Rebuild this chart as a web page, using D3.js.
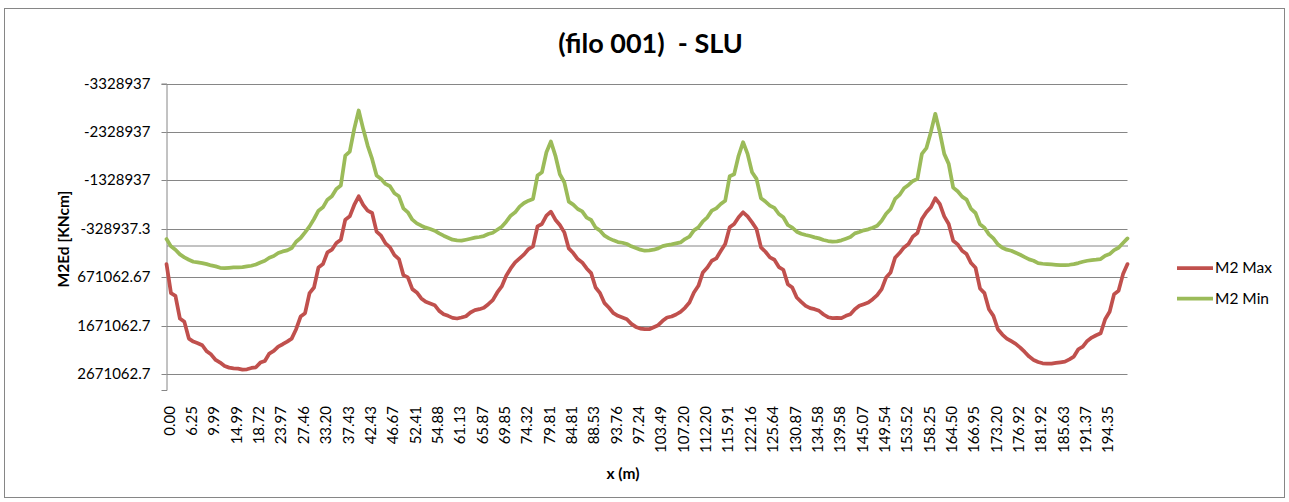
<!DOCTYPE html>
<html>
<head>
<meta charset="utf-8">
<script src="https://cdn.jsdelivr.net/npm/d3@7"></script>
<style>
  body { margin: 0; background: #fff; }
  svg { display: block; }
  text { font-family: Lato, "Open Sans", sans-serif; fill: #000; }
</style>
</head>
<body>
<svg id="chart" width="1289" height="502"></svg>
<script>
// Station labels shown on the category axis (every fifth section)
const xLabels = ["0.00","6.25","9.99","14.99","18.72","23.97","27.46","33.20","37.43","42.43",
  "46.67","52.41","54.88","61.13","65.87","69.85","74.32","79.81","84.81","88.53",
  "93.76","97.24","103.49","107.20","112.20","115.91","122.16","125.64","130.87","134.58",
  "139.58","145.07","149.54","153.52","158.25","164.50","166.95","173.20","176.92","181.92",
  "185.63","191.37","194.35"];
const labelStep = 5;

const seriesNames = ["M2 Max", "M2 Min"];
const seriesColors = ["#C0504D", "#9BBB59"];

// Design bending moment envelope, KNcm, one value per section
const m2Max = [
  400000, 1000000, 1055000, 1524000, 1593000, 1938000, 2000000, 2034000, 2076000, 2200000,
  2269000, 2379000, 2434000, 2503000, 2538000, 2552000, 2559000, 2579000, 2572000, 2545000,
  2531000, 2434000, 2400000, 2248000, 2193000, 2103000, 2055000, 2000000, 1938000, 1745000,
  1483000, 1414000, 1000000, 883000, 469000, 400000, 159000, 103000, -34000, -103000,
  -517000, -586000, -821000, -1000000, -821000, -703000, -655000, -269000, -186000, -28000,
  55000, 214000, 297000, 628000, 676000, 917000, 986000, 1110000, 1179000, 1214000,
  1248000, 1366000, 1434000, 1469000, 1510000, 1524000, 1503000, 1476000, 1400000, 1352000,
  1331000, 1303000, 1228000, 1145000, 986000, 862000, 641000, 490000, 366000, 283000,
  200000, 90000, 34000, -379000, -428000, -600000, -683000, -517000, -407000, -255000,
  76000, 172000, 297000, 366000, 490000, 586000, 883000, 1000000, 1207000, 1303000,
  1414000, 1469000, 1503000, 1538000, 1634000, 1697000, 1731000, 1745000, 1745000, 1703000,
  1662000, 1572000, 1503000, 1483000, 1441000, 1386000, 1303000, 1193000, 986000, 848000,
  572000, 469000, 331000, 283000, 131000, -14000, -359000, -428000, -566000, -669000,
  -586000, -462000, -324000, 55000, 145000, 262000, 310000, 462000, 517000, 814000,
  883000, 1090000, 1179000, 1262000, 1310000, 1331000, 1366000, 1441000, 1497000, 1517000,
  1510000, 1517000, 1469000, 1434000, 1331000, 1262000, 1228000, 1193000, 1124000, 1041000,
  917000, 676000, 572000, 269000, 172000, 55000, -14000, -172000, -241000, -531000,
  -669000, -772000, -959000, -841000, -586000, -428000, -83000, -7000, 124000, 193000,
  379000, 476000, 903000, 1000000, 1331000, 1469000, 1745000, 1855000, 1938000, 1993000,
  2048000, 2124000, 2214000, 2310000, 2379000, 2421000, 2448000, 2455000, 2455000, 2441000,
  2428000, 2414000, 2366000, 2310000, 2159000, 2103000, 1986000, 1917000, 1869000, 1828000,
  1538000, 1386000, 1021000, 952000, 607000, 400000
];

const m2Min = [
  -117000, 34000, 103000, 200000, 262000, 310000, 352000, 366000, 379000, 400000,
  428000, 448000, 476000, 483000, 476000, 469000, 469000, 462000, 448000, 434000,
  407000, 366000, 331000, 269000, 234000, 172000, 138000, 117000, 69000, -62000,
  -138000, -255000, -379000, -531000, -703000, -772000, -931000, -1000000, -1152000, -1221000,
  -1841000, -1924000, -2393000, -2772000, -2393000, -2048000, -1772000, -1428000, -1359000, -1255000,
  -1207000, -1062000, -1000000, -752000, -669000, -517000, -441000, -393000, -352000, -324000,
  -290000, -234000, -186000, -145000, -103000, -90000, -83000, -103000, -124000, -145000,
  -159000, -179000, -221000, -248000, -310000, -372000, -476000, -600000, -669000, -786000,
  -862000, -910000, -945000, -1428000, -1497000, -1910000, -2131000, -1841000, -1455000, -1290000,
  -890000, -828000, -738000, -690000, -559000, -510000, -352000, -290000, -186000, -131000,
  -90000, -55000, -41000, -14000, 34000, 69000, 103000, 124000, 117000, 103000,
  76000, 28000, 7000, -7000, -28000, -48000, -117000, -166000, -297000, -359000,
  -483000, -566000, -703000, -752000, -841000, -910000, -1414000, -1455000, -1841000, -2117000,
  -1876000, -1497000, -1359000, -959000, -890000, -807000, -759000, -634000, -566000, -407000,
  -352000, -269000, -228000, -200000, -179000, -152000, -131000, -97000, -76000, -62000,
  -69000, -90000, -124000, -159000, -234000, -262000, -297000, -317000, -352000, -393000,
  -497000, -641000, -738000, -945000, -1028000, -1166000, -1234000, -1317000, -1359000, -1876000,
  -1993000, -2324000, -2703000, -2324000, -1876000, -1669000, -1179000, -1103000, -993000, -931000,
  -738000, -655000, -421000, -352000, -214000, -131000, -7000, 62000, 103000, 124000,
  166000, 207000, 255000, 303000, 331000, 379000, 393000, 400000, 407000, 414000,
  421000, 421000, 414000, 400000, 379000, 352000, 331000, 317000, 310000, 297000,
  228000, 193000, 110000, 62000, -34000, -131000
];

// Value axis: reversed (negative moments on top), ticks every 1,000,000 from the minimum
const yMin = -3328937, yMax = 3000000;
const yTicks = [-3328937, -2328937, -1328937, -328937.3, 671062.67, 1671062.7, 2671062.7];
const yTickLabels = ["-3328937", "-2328937", "-1328937", "-328937.3", "671062.67", "1671062.7", "2671062.7"];

const svg = d3.select("#chart");
const plot = { left: 166.5, right: 1127.5, top: 83.5, bottom: 390 };
const axisColor = "#868686";
const labelSize = "15px";

// chart frame
svg.append("rect")
  .attr("x", 4.5).attr("y", 8.5).attr("width", 1280).attr("height", 489)
  .attr("fill", "#fff").attr("stroke", axisColor).attr("stroke-width", 1);

const x = d3.scaleLinear().domain([0, m2Max.length - 1]).range([plot.left, plot.right]);
const y = d3.scaleLinear().domain([yMin, yMax]).range([plot.top, plot.bottom]);

// horizontal gridlines
svg.append("g")
  .selectAll("line").data(yTicks).join("line")
  .attr("x1", plot.left).attr("x2", plot.right)
  .attr("y1", d => Math.round(y(d)) + 0.5).attr("y2", d => Math.round(y(d)) + 0.5)
  .attr("stroke", axisColor).attr("stroke-width", 1);

// value axis
const yAxis = svg.append("g")
  .attr("transform", `translate(${plot.left},0)`)
  .call(d3.axisLeft(y).tickValues(yTicks).tickFormat((d, i) => yTickLabels[i]).tickSize(5).tickPadding(11));
yAxis.select(".domain").attr("stroke", axisColor);
yAxis.selectAll(".tick line").attr("stroke", axisColor);
yAxis.selectAll(".tick").attr("transform", d => `translate(0,${Math.round(y(d)) + 0.5})`);
yAxis.selectAll("text").style("font-size", labelSize).attr("fill", "#000");

// category axis line crossing at zero
const zeroY = Math.round(y(0)) + 0.5;
const xAxis = svg.append("g")
  .attr("transform", `translate(0,${zeroY})`)
  .call(d3.axisBottom(x).tickValues(d3.range(0, m2Max.length, labelStep)).tickFormat("").tickSize(0));
xAxis.select(".domain").attr("stroke", axisColor);

// category labels at the low end of the axis, rotated
svg.append("g")
  .selectAll("text").data(xLabels).join("text")
  .attr("transform", (d, i) => `translate(${x(i * labelStep) + 3},406) rotate(-90)`)
  .attr("text-anchor", "end")
  .attr("dy", "0.35em")
  .style("font-size", labelSize)
  .text(d => d);

// series lines
const line = d3.line().x((d, i) => x(i)).y(d => y(d));
[m2Max, m2Min].forEach((s, k) => {
  svg.append("path").datum(s)
    .attr("d", line)
    .attr("fill", "none")
    .attr("stroke", seriesColors[k])
    .attr("stroke-width", 3.75)
    .attr("stroke-linejoin", "round")
    .attr("stroke-linecap", "round");
});

// titles
svg.append("text").attr("x", 650.5).attr("y", 53).attr("text-anchor", "middle")
  .style("font-size", "27px").style("font-weight", "bold").style("white-space", "pre")
  .text("(filo 001)  - SLU");
svg.append("text").attr("x", 623).attr("y", 479).attr("text-anchor", "middle")
  .style("font-size", "15.5px").style("font-weight", "bold").text("x (m)");
svg.append("text").attr("transform", "translate(64,239) rotate(-90)").attr("text-anchor", "middle")
  .attr("dy", "0.35em")
  .style("font-size", "15.5px").style("font-weight", "bold").text("M2Ed [KNcm]");

// legend
const legend = svg.append("g").attr("transform", "translate(1177,268)");
seriesNames.forEach((n, k) => {
  const g = legend.append("g").attr("transform", `translate(0,${k * 30.5})`);
  g.append("line").attr("x1", 0).attr("x2", 36).attr("y1", 0).attr("y2", 0)
    .attr("stroke", seriesColors[k]).attr("stroke-width", 3.75);
  g.append("text").attr("x", 38).attr("y", 0).attr("dy", "0.35em")
    .style("font-size", "15.5px").text(n);
});
</script>
</body>
</html>
